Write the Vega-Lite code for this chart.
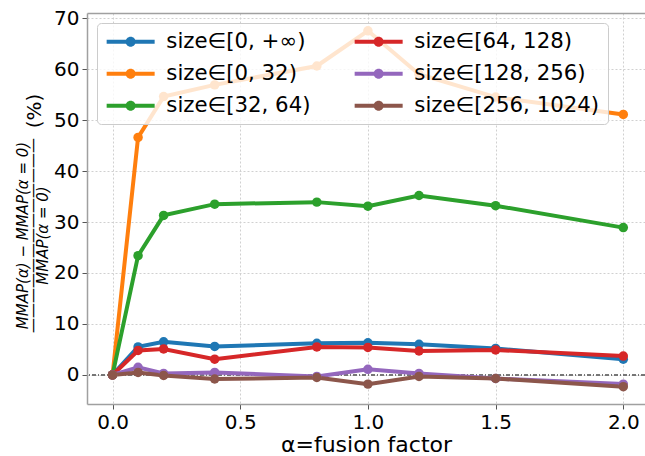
{
  "$schema": "https://vega.github.io/schema/vega-lite/v6.json",
  "width": 558,
  "height": 391,
  "autosize": {"type": "none"},
  "padding": {"left": 87, "top": 13, "right": 0, "bottom": 52},
  "background": "white",
  "config": {
    "view": {"stroke": null},
    "font": "DejaVu Sans",
    "axis": {
      "labelFont": "DejaVu Sans", "labelFontSize": 20, "labelColor": "#000000",
      "titleFont": "DejaVu Sans", "titleColor": "#000000", "titleFontWeight": "normal",
      "domainColor": "#a0a0a0", "domainWidth": 1.5,
      "tickColor": "#555555", "tickSize": 5, "tickWidth": 1,
      "gridColor": "#d0d0d0", "gridDash": [2, 2], "gridWidth": 1,
      "labelPadding": 3
    }
  },
  "data": {"values": [
    {"a": 0, "v": 0, "s": "size∈[0, +∞)"},
    {"a": 0.1, "v": 5.5, "s": "size∈[0, +∞)"},
    {"a": 0.2, "v": 6.5, "s": "size∈[0, +∞)"},
    {"a": 0.4, "v": 5.6, "s": "size∈[0, +∞)"},
    {"a": 0.8, "v": 6.2, "s": "size∈[0, +∞)"},
    {"a": 1.0, "v": 6.3, "s": "size∈[0, +∞)"},
    {"a": 1.2, "v": 6.0, "s": "size∈[0, +∞)"},
    {"a": 1.5, "v": 5.2, "s": "size∈[0, +∞)"},
    {"a": 2.0, "v": 3.1, "s": "size∈[0, +∞)"},
    {"a": 0, "v": 0, "s": "size∈[0, 32)"},
    {"a": 0.1, "v": 46.6, "s": "size∈[0, 32)"},
    {"a": 0.2, "v": 54.6, "s": "size∈[0, 32)"},
    {"a": 0.4, "v": 56.9, "s": "size∈[0, 32)"},
    {"a": 0.8, "v": 60.6, "s": "size∈[0, 32)"},
    {"a": 1.0, "v": 67.5, "s": "size∈[0, 32)"},
    {"a": 1.2, "v": 59.0, "s": "size∈[0, 32)"},
    {"a": 1.5, "v": 54.5, "s": "size∈[0, 32)"},
    {"a": 2.0, "v": 51.1, "s": "size∈[0, 32)"},
    {"a": 0, "v": 0, "s": "size∈[32, 64)"},
    {"a": 0.1, "v": 23.4, "s": "size∈[32, 64)"},
    {"a": 0.2, "v": 31.3, "s": "size∈[32, 64)"},
    {"a": 0.4, "v": 33.5, "s": "size∈[32, 64)"},
    {"a": 0.8, "v": 33.9, "s": "size∈[32, 64)"},
    {"a": 1.0, "v": 33.1, "s": "size∈[32, 64)"},
    {"a": 1.2, "v": 35.2, "s": "size∈[32, 64)"},
    {"a": 1.5, "v": 33.2, "s": "size∈[32, 64)"},
    {"a": 2.0, "v": 28.9, "s": "size∈[32, 64)"},
    {"a": 0, "v": 0, "s": "size∈[64, 128)"},
    {"a": 0.1, "v": 4.8, "s": "size∈[64, 128)"},
    {"a": 0.2, "v": 5.1, "s": "size∈[64, 128)"},
    {"a": 0.4, "v": 3.1, "s": "size∈[64, 128)"},
    {"a": 0.8, "v": 5.5, "s": "size∈[64, 128)"},
    {"a": 1.0, "v": 5.4, "s": "size∈[64, 128)"},
    {"a": 1.2, "v": 4.7, "s": "size∈[64, 128)"},
    {"a": 1.5, "v": 4.9, "s": "size∈[64, 128)"},
    {"a": 2.0, "v": 3.7, "s": "size∈[64, 128)"},
    {"a": 0, "v": 0, "s": "size∈[128, 256)"},
    {"a": 0.1, "v": 1.5, "s": "size∈[128, 256)"},
    {"a": 0.2, "v": 0.3, "s": "size∈[128, 256)"},
    {"a": 0.4, "v": 0.5, "s": "size∈[128, 256)"},
    {"a": 0.8, "v": -0.3, "s": "size∈[128, 256)"},
    {"a": 1.0, "v": 1.1, "s": "size∈[128, 256)"},
    {"a": 1.2, "v": 0.3, "s": "size∈[128, 256)"},
    {"a": 1.5, "v": -0.7, "s": "size∈[128, 256)"},
    {"a": 2.0, "v": -1.8, "s": "size∈[128, 256)"},
    {"a": 0, "v": 0, "s": "size∈[256, 1024)"},
    {"a": 0.1, "v": 0.5, "s": "size∈[256, 1024)"},
    {"a": 0.2, "v": -0.1, "s": "size∈[256, 1024)"},
    {"a": 0.4, "v": -0.8, "s": "size∈[256, 1024)"},
    {"a": 0.8, "v": -0.5, "s": "size∈[256, 1024)"},
    {"a": 1.0, "v": -1.8, "s": "size∈[256, 1024)"},
    {"a": 1.2, "v": -0.3, "s": "size∈[256, 1024)"},
    {"a": 1.5, "v": -0.7, "s": "size∈[256, 1024)"},
    {"a": 2.0, "v": -2.3, "s": "size∈[256, 1024)"}
  ]},
  "layer": [
    {
      "mark": {"type": "rule", "color": "#777777", "strokeWidth": 0.8, "strokeDash": [4, 2, 1, 2]},
      "encoding": {
        "y": {"datum": 0, "type": "quantitative", "axis": null}
      }
    },
    {
      "mark": {"type": "line", "strokeWidth": 4},
      "encoding": {
        "x": {
          "field": "a", "type": "quantitative",
          "scale": {"domain": [-0.1, 2.085], "nice": false, "zero": false},
          "axis": {"values": [0, 0.5, 1, 1.5, 2], "format": ".1f", "title": "α=fusion factor", "titleFontSize": 22, "titlePadding": 2, "grid": true}
        },
        "y": {
          "field": "v", "type": "quantitative",
          "scale": {"domain": [-5.7, 71], "nice": false, "zero": false},
          "axis": {
            "values": [0, 10, 20, 30, 40, 50, 60, 70], "grid": true,
            "title": ["MMAP(α) − MMAP(α = 0)", "—————————————", "MMAP(α = 0)"],
            "titleFontSize": 15, "titleFontStyle": "italic", "titleLineHeight": 10,
            "titleAngle": 270, "titleAlign": "center", "titleBaseline": "alphabetic",
            "titleX": -60, "titleY": 222
          }
        },
        "color": {
          "field": "s", "type": "nominal",
          "scale": {
            "domain": ["size∈[0, +∞)", "size∈[0, 32)", "size∈[32, 64)", "size∈[64, 128)", "size∈[128, 256)", "size∈[256, 1024)"],
            "range": ["#1f77b4", "#ff7f0e", "#2ca02c", "#d62728", "#9467bd", "#8c564b"]
          },
          "legend": {
            "title": null, "orient": "none", "legendX": 10, "legendY": 10, "columns": 2,
            "symbolType": "M-1.125,-0.25L4.875,-0.25L4.875,0.25L-1.125,0.25Z M1.25,0C1.25,-0.3452 1.5298,-0.625 1.875,-0.625C2.2202,-0.625 2.5,-0.3452 2.5,0C2.5,0.3452 2.2202,0.625 1.875,0.625C1.5298,0.625 1.25,0.3452 1.25,0Z",
            "symbolSize": 256, "symbolStrokeWidth": 0,
            "labelFont": "DejaVu Sans", "labelFontSize": 21.3, "labelColor": "#000000", "labelLimit": 400,
            "labelOffset": 40, "columnPadding": 42, "rowPadding": 10, "padding": 8,
            "fillColor": "rgba(255,255,255,0.8)", "strokeColor": "#cccccc", "cornerRadius": 4,
            "encode": {"symbols": {"update": {"fill": {"scale": "color", "field": "value"}, "opacity": {"value": 1}}}}
          }
        }
      }
    },
    {
      "mark": {"type": "circle", "size": 90, "opacity": 1},
      "encoding": {
        "x": {
          "field": "a", "type": "quantitative",
          "axis": {"orient": "top", "labels": false, "ticks": false, "grid": false, "title": null, "domain": true}
        },
        "y": {
          "field": "v", "type": "quantitative",
          "axis": {
            "orient": "left", "labels": false, "ticks": false, "grid": false, "domain": false,
            "title": "(%)", "titleFontSize": 20, "titleAngle": 270, "titleAlign": "center", "titleBaseline": "middle",
            "titleX": -52.5, "titleY": 97.5
          }
        },
        "color": {"field": "s", "type": "nominal"}
      }
    }
  ],
  "resolve": {"axis": {"x": "independent", "y": "independent"}}
}
